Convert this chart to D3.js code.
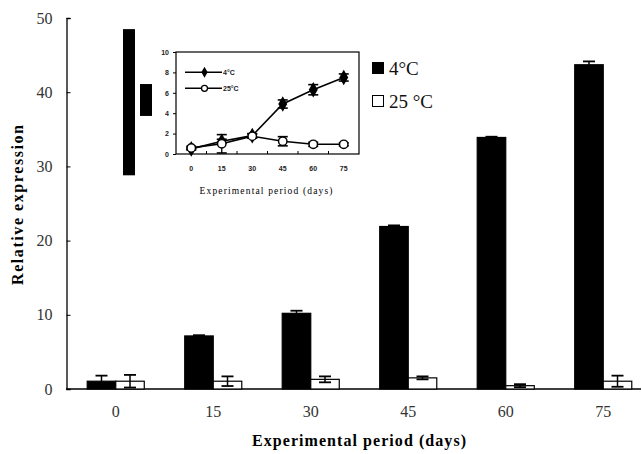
<!DOCTYPE html>
<html>
<head>
<meta charset="utf-8">
<script src="https://cdn.jsdelivr.net/npm/d3@7"></script>
<style>
  html, body { margin: 0; padding: 0; background: #fff; }
  svg { display: block; }
</style>
</head>
<body>
<svg id="chart" width="642" height="454"></svg>
<script>
// ---------- data ----------
const days = ["0", "15", "30", "45", "60", "75"];
const series = ["4°C", "25 °C"];
const cold = [1.05, 7.15, 10.2, 21.9, 33.9, 43.7];
const coldErr = [0.75, 0.1, 0.35, 0.15, 0.1, 0.45];
const warm = [1.05, 1.05, 1.3, 1.5, 0.45, 1.05];
const warmErr = [0.85, 0.65, 0.4, 0.2, 0.2, 0.75];
const yTicks = [0, 10, 20, 30, 40, 50];

// inset (line chart)
const insetSeries = ["4°C", "25°C"];
const insetCold = [0.5, 1.25, 1.8, 4.9, 6.3, 7.5];
const insetColdErr = [0.1, 0.2, 0.2, 0.4, 0.5, 0.35];
const insetWarm = [0.6, 1.0, 1.75, 1.25, 0.95, 0.95];
const insetWarmErr = [0.15, 0.9, 0.2, 0.45, 0.2, 0.15];
const insetYTicks = [0, 2, 4, 6, 8, 10];

// stray legend-like blocks visible in the figure (value ranges on main y axis)
const strayBlocks = [
  { col: 0, lo: 28.8, hi: 48.5 },
  { col: 1, lo: 36.8, hi: 41.1 }
];

// ---------- main chart ----------
const svg = d3.select("#chart");
const serif = "'Liberation Serif', 'Times New Roman', serif";
const sans = "'Liberation Sans', Arial, sans-serif";

const y = d3.scaleLinear().domain([0, 50]).range([389, 18]);
const x = d3.scaleBand().domain(days).range([67, 652]).paddingInner(0.415).paddingOuter(0.2075);
const xs = d3.scaleBand().domain(series).range([0, x.bandwidth()]);

// axes
const yAxis = d3.axisLeft(y).tickValues(yTicks).tickSize(-4).tickPadding(14).tickFormat(d3.format("d"));
const gy = svg.append("g").attr("transform", "translate(66.5,0)").call(yAxis);
gy.select(".domain").attr("stroke", "#000").attr("stroke-width", 1.3);
gy.selectAll(".tick line").attr("stroke", "#000");
gy.selectAll(".tick text").attr("font-family", serif).attr("font-size", 16).attr("fill", "#333");

svg.append("line").attr("x1", 66).attr("x2", 641).attr("y1", 389).attr("y2", 389)
  .attr("stroke", "#000").attr("stroke-width", 1.5);

const xAxis = d3.axisBottom(x).tickSize(0).tickPadding(17);
const gx = svg.append("g").attr("transform", "translate(0,389)").call(xAxis);
gx.select(".domain").remove();
gx.selectAll(".tick text").attr("font-family", serif).attr("font-size", 16).attr("fill", "#333");

// bars
const rows = days.map((d, i) => ({ d, v: [cold[i], warm[i]], e: [coldErr[i], warmErr[i]] }));
const groups = svg.append("g").selectAll("g").data(rows).join("g")
  .attr("transform", r => `translate(${x(r.d)},0)`);

groups.selectAll("rect").data(r => series.map((s, k) => ({ s, v: r.v[k], e: r.e[k] }))).join("rect")
  .attr("x", b => xs(b.s))
  .attr("width", xs.bandwidth())
  .attr("y", b => y(b.v))
  .attr("height", b => y(0) - y(b.v))
  .attr("fill", (b, k) => k === 0 ? "#000" : "#fff")
  .attr("stroke", "#000").attr("stroke-width", 1.2);

const eb = groups.selectAll("g.err").data(r => series.map((s, k) => ({ s, v: r.v[k], e: r.e[k] }))).join("g").attr("class", "err");
eb.append("line")
  .attr("x1", b => xs(b.s) + xs.bandwidth() / 2).attr("x2", b => xs(b.s) + xs.bandwidth() / 2)
  .attr("y1", b => y(b.v + b.e)).attr("y2", b => y(Math.max(0, b.v - b.e)))
  .attr("stroke", "#000").attr("stroke-width", 1.5);
eb.append("line")
  .attr("x1", b => xs(b.s) + xs.bandwidth() / 2 - 6).attr("x2", b => xs(b.s) + xs.bandwidth() / 2 + 6)
  .attr("y1", b => y(b.v + b.e)).attr("y2", b => y(b.v + b.e))
  .attr("stroke", "#000").attr("stroke-width", 1.8);
eb.append("line")
  .attr("x1", b => xs(b.s) + xs.bandwidth() / 2 - 6).attr("x2", b => xs(b.s) + xs.bandwidth() / 2 + 6)
  .attr("y1", b => y(Math.max(0, b.v - b.e))).attr("y2", b => y(Math.max(0, b.v - b.e)))
  .attr("stroke", "#000").attr("stroke-width", 1.8);

// axis titles
svg.append("text").attr("x", 359).attr("y", 446).attr("text-anchor", "middle")
  .attr("font-family", serif).attr("font-size", 16).attr("font-weight", "bold")
  .attr("textLength", 214).attr("lengthAdjust", "spacing")
  .text("Experimental period (days)");
svg.append("text").attr("transform", "translate(23,205) rotate(-90)").attr("text-anchor", "middle")
  .attr("font-family", serif).attr("font-size", 16).attr("font-weight", "bold")
  .attr("textLength", 160).attr("lengthAdjust", "spacing")
  .text("Relative expression");

// main legend
const lg = svg.append("g").attr("transform", "translate(372,62)");
series.forEach((s, k) => {
  lg.append("rect").attr("x", 0.5).attr("y", k * 33 + 0.5).attr("width", 11).attr("height", 11)
    .attr("fill", k === 0 ? "#000" : "#fff").attr("stroke", "#000").attr("stroke-width", 1);
  lg.append("text").attr("x", 17).attr("y", k * 33 + 12.5)
    .attr("font-family", serif).attr("font-size", 19).attr("fill", "#111").text(s);
});

// stray blocks
const bx = d3.scaleLinear().domain([0, 1]).range([123, 140]);
svg.append("g").selectAll("rect").data(strayBlocks).join("rect")
  .attr("x", b => bx(b.col)).attr("width", 12)
  .attr("y", b => y(b.hi)).attr("height", b => y(b.lo) - y(b.hi))
  .attr("fill", "#000");

// ---------- inset ----------
const ix = d3.scaleBand().domain(days).range([176, 359]);
const iy = d3.scaleLinear().domain([0, 10]).range([154, 52]);
const inset = svg.append("g");
inset.append("rect").attr("x", 176).attr("y", 52).attr("width", 183).attr("height", 102)
  .attr("fill", "#fff").attr("stroke", "#000").attr("stroke-width", 1.2);

const iyAxis = d3.axisLeft(iy).tickValues(insetYTicks).tickSize(3).tickPadding(4);
const giy = inset.append("g").attr("transform", "translate(176,0)").call(iyAxis);
giy.select(".domain").remove();
giy.selectAll(".tick text").attr("font-family", sans).attr("font-size", 7).attr("font-weight", "bold").attr("fill", "#222");

// bottom ticks at category boundaries
inset.append("g").selectAll("line").data(days.slice(1)).join("line")
  .attr("x1", d => ix(d)).attr("x2", d => ix(d)).attr("y1", 154).attr("y2", 151)
  .attr("stroke", "#000");

const ixAxis = d3.axisBottom(ix).tickSize(0).tickPadding(12);
const gix = inset.append("g").attr("transform", "translate(0,154)").call(ixAxis);
gix.select(".domain").remove();
gix.selectAll(".tick text").attr("font-family", sans).attr("font-size", 7).attr("font-weight", "bold").attr("fill", "#222");

inset.append("text").attr("x", 266).attr("y", 194).attr("text-anchor", "middle")
  .attr("font-family", serif).attr("font-size", 9.5)
  .attr("textLength", 133).attr("lengthAdjust", "spacing")
  .text("Experimental period (days)");

const cx = d => ix(d) + ix.bandwidth() / 2;
const line = d3.line().x((v, i) => cx(days[i])).y(v => iy(v));
const isets = [
  { vals: insetCold, errs: insetColdErr, filled: true },
  { vals: insetWarm, errs: insetWarmErr, filled: false }
];
const diamond = d3.symbol().type(d3.symbolDiamond).size(70);
isets.forEach(sr => {
  inset.append("path").datum(sr.vals).attr("d", line).attr("fill", "none")
    .attr("stroke", "#000").attr("stroke-width", 1.6);
  sr.vals.forEach((v, i) => {
    const px = cx(days[i]);
    const t = iy(v + sr.errs[i]), b = iy(v - sr.errs[i]);
    inset.append("line").attr("x1", px).attr("x2", px).attr("y1", t).attr("y2", b).attr("stroke", "#000").attr("stroke-width", 1.3);
    [t, b].forEach(yy => inset.append("line").attr("x1", px - 5).attr("x2", px + 5).attr("y1", yy).attr("y2", yy)
      .attr("stroke", "#000").attr("stroke-width", 1.6));
  });
});
isets.forEach(sr => {
  sr.vals.forEach((v, i) => {
    const px = cx(days[i]);
    if (sr.filled) {
      inset.append("path").attr("d", diamond).attr("transform", `translate(${px},${iy(v)})`).attr("fill", "#000");
    } else {
      inset.append("circle").attr("cx", px).attr("cy", iy(v)).attr("r", 4.2)
        .attr("fill", "#fff").attr("stroke", "#000").attr("stroke-width", 1.4);
    }
  });
});

// inset legend
insetSeries.forEach((s, k) => {
  const ly = 72.3 + k * 16;
  inset.append("line").attr("x1", 185).attr("x2", 222).attr("y1", ly).attr("y2", ly).attr("stroke", "#000").attr("stroke-width", 1.6);
  if (k === 0) {
    inset.append("path").attr("d", d3.symbol().type(d3.symbolDiamond).size(34)).attr("transform", `translate(204.5,${ly})`).attr("fill", "#000");
  } else {
    inset.append("circle").attr("cx", 204.5).attr("cy", ly).attr("r", 3).attr("fill", "#fff").attr("stroke", "#000").attr("stroke-width", 1.3);
  }
  inset.append("text").attr("x", 223).attr("y", ly + 2.5).attr("font-family", sans).attr("font-size", 7)
    .attr("font-weight", "bold").attr("fill", "#222").text(s);
});
</script>
</body>
</html>
